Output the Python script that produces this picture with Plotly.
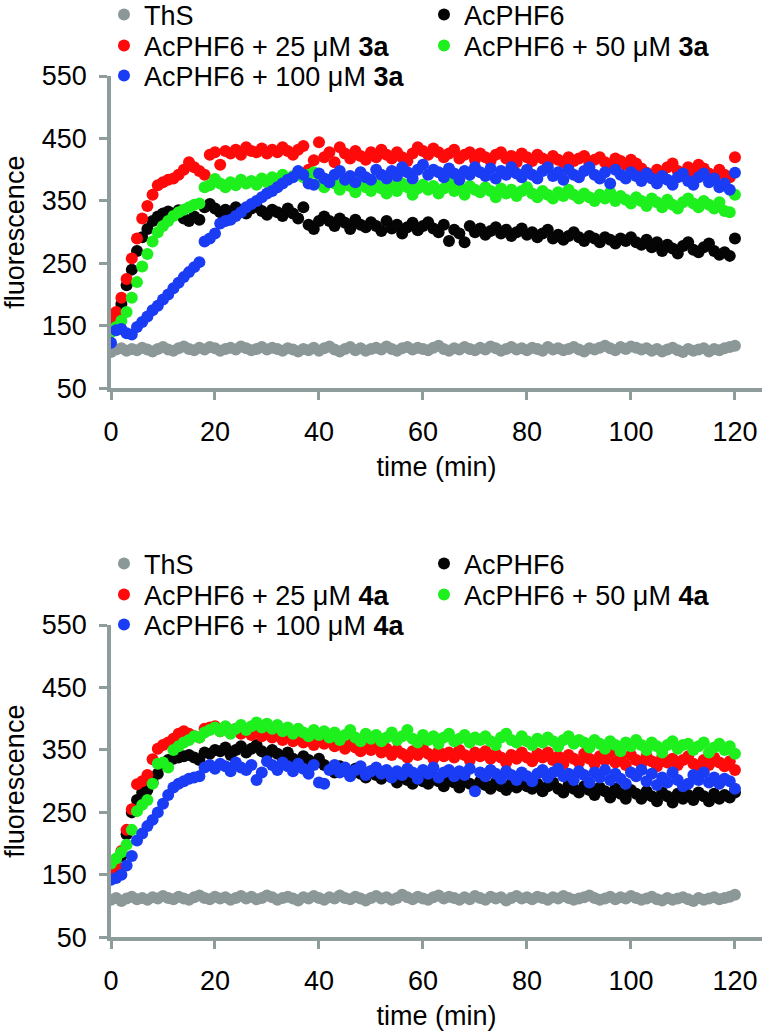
import plotly.graph_objects as go

# ---------------- data ----------------
time_min = list(range(0, 121))

# top panel (compound 3a)
ths_3a = [108, 112, 114, 110, 113, 111, 115, 112, 109, 113, 116,
          112, 110, 114, 117, 113, 111, 115, 112, 116, 114,
          110, 113, 115, 112, 117, 114, 111, 113, 116, 112,
          115, 113, 110, 114, 112, 109, 113, 111, 115, 110,
          114, 117, 112, 109, 113, 116, 111, 114, 110, 113,
          115, 112, 117, 113, 110, 114, 116, 112, 115, 113,
          111, 115, 118, 113, 110, 114, 112, 116, 113, 111,
          115, 112, 117, 114, 110, 113, 116, 112, 114, 111,
          115, 113, 110, 116, 112, 114, 111, 113, 116, 112,
          109, 114, 112, 115, 118, 114, 111, 116, 113, 117,
          115, 112, 114, 110, 113, 109, 112, 115, 111, 108,
          113, 110, 112, 114, 109, 113, 111, 114, 116, 118]
acphf6_3a = [140, 165, 185, 215, 240, 270, 292, 305, 318, 325, 330,
             333, 328, 335, 322, 318, 325, 320, 340, 345, 338,
             332, 336, 328, 340, 335, 330, 338, 342, 334, 328,
             336, 332, 326, 338, 330, 322, 340, 312, 305, 318,
             325, 318, 310, 322, 315, 305, 320, 312, 308, 316,
             310, 302, 318, 306, 312, 298, 308, 315, 303, 310,
             316, 306, 300, 312, 286, 304, 298, 284, 310, 300,
             306, 296, 302, 308, 298, 304, 294, 300, 306, 296,
             300, 292, 298, 304, 290, 296, 288, 294, 300, 292,
             286, 294, 290, 284, 292, 288, 282, 290, 286, 292,
             284, 280, 288, 276, 284, 270, 280, 274, 266, 278,
             284, 272, 268, 276, 282, 270, 264, 268, 262, 290]
acphf6_25uM_3a = [160, 172, 195, 225, 258, 290, 322, 342, 360, 375, 380,
                  384, 386, 392, 400, 412, 404, 398, 392, 424, 428,
                  408, 430, 426, 432, 424, 436, 430, 428, 434, 426,
                  432, 428, 436, 430, 424, 432, 438, 400, 415, 444,
                  420, 428, 412, 436, 426, 418, 430, 422, 416, 428,
                  420, 432, 424, 418, 428, 420, 414, 426, 436, 430,
                  424, 434, 428, 420, 426, 432, 418, 424, 428, 416,
                  426, 420, 414, 424, 428, 418, 422, 412, 426, 420,
                  414, 424, 418, 410, 422, 416, 412, 420, 414, 418,
                  422, 410, 416, 420, 412, 406, 418, 414, 408, 416,
                  410, 402, 395, 388, 400, 392, 404, 410, 398, 390,
                  404, 396, 408, 402, 394, 386, 400, 392, 388, 420]
acphf6_50uM_3a = [140, 148, 158, 172, 195, 220, 245, 265, 285, 300, 310,
                  318, 326, 332, 336, 340, 344, 346, 372, 375, 385,
                  378, 372, 380, 375, 384, 378, 382, 376, 386, 380,
                  388, 384, 392, 386, 390, 394, 388, 392, 396, 380,
                  372, 384, 378, 368, 380, 374, 364, 378, 372, 366,
                  376, 370, 362, 374, 366, 378, 372, 360, 370, 376,
                  368, 374, 362, 370, 378, 366, 372, 360, 374, 368,
                  364, 372, 366, 356, 370, 362, 368, 358, 366, 372,
                  362, 356, 366, 360, 354, 364, 358, 368, 360, 354,
                  362, 356, 350, 360, 354, 364, 350, 358, 352, 346,
                  356, 350, 342, 354, 348, 340, 352, 344, 338, 348,
                  354, 346, 340, 350, 344, 338, 348, 334, 332, 360]
acphf6_100uM_3a = [123, 143, 145, 138, 136, 148, 156, 165, 175, 182, 192,
                   200, 210, 219, 228, 236, 244, 252, 285, 290, 298,
                   314, 318, 320, 326, 332, 340, 345, 350, 356, 362,
                   366, 372, 378, 384, 388, 398, 392, 378, 376, 394,
                   386, 380, 392, 398, 384, 390, 380, 396, 388, 384,
                   400, 392, 386, 398, 390, 404, 396, 386, 400, 408,
                   392, 400, 396, 388, 402, 394, 384, 398, 392, 404,
                   396, 390, 402, 386, 398, 392, 404, 394, 388, 400,
                   392, 386, 398, 404, 390, 396, 384, 400, 392, 388,
                   398, 404, 392, 386, 396, 378, 400, 392, 386, 396,
                   390, 382, 394, 386, 378, 390, 384, 376, 388, 394,
                   382, 376, 388, 394, 380, 386, 372, 378, 368, 395]

# bottom panel (compound 4a)
ths_4a = [110, 113, 108, 112, 115, 111, 113, 110, 114, 112, 116,
          113, 111, 115, 112, 110, 114, 117, 113, 111, 115,
          112, 114, 110, 113, 116, 112, 115, 111, 113, 117,
          114, 110, 113, 115, 112, 109, 114, 112, 116, 113,
          110, 114, 112, 117, 113, 111, 115, 112, 109, 113,
          116, 112, 114, 110, 113, 118, 114, 111, 115, 112,
          110, 114, 117, 112, 115, 113, 110, 114, 111, 116,
          113, 110, 115, 112, 114, 109, 113, 116, 112, 114,
          111, 115, 113, 110, 114, 112, 116, 113, 110, 112,
          114, 117, 113, 110, 112, 115, 111, 114, 112, 116,
          113, 110, 112, 115, 111, 109, 113, 110, 112, 114,
          111, 108, 113, 110, 112, 114, 111, 113, 115, 118]
acphf6_4a = [150, 160, 180, 215, 250, 270, 282, 286, 298, 312, 328,
             334, 336, 338, 340, 342, 338, 334, 346, 344, 350,
             348, 354, 342, 350, 356, 346, 352, 358, 348, 342,
             350, 344, 338, 346, 336, 330, 340, 334, 328, 336,
             326, 320, 314, 324, 316, 310, 320, 312, 306, 316,
             310, 304, 314, 306, 298, 310, 302, 296, 308, 300,
             296, 306, 300, 292, 304, 298, 290, 302, 296, 292,
             300, 294, 288, 298, 292, 286, 296, 290, 298, 292,
             288, 296, 284, 292, 298, 288, 282, 294, 288, 282,
             292, 286, 278, 290, 284, 274, 288, 280, 272, 286,
             280, 272, 284, 276, 268, 282, 276, 266, 280, 272,
             278, 270, 282, 276, 268, 280, 272, 278, 274, 282]
acphf6_25uM_4a = [150, 165, 188, 222, 255, 295, 300, 310, 335, 352, 358,
                  362, 368, 376, 380, 376, 372, 370, 384, 386, 388,
                  380, 386, 378, 384, 376, 382, 374, 380, 372, 378,
                  370, 376, 366, 372, 364, 370, 362, 368, 358, 366,
                  360, 366, 356, 362, 352, 360, 354, 348, 358, 350,
                  356, 346, 352, 342, 350, 344, 338, 348, 342, 352,
                  344, 336, 348, 340, 346, 338, 350, 342, 334, 346,
                  340, 348, 336, 344, 338, 330, 342, 336, 346, 338,
                  332, 344, 338, 346, 334, 340, 328, 342, 336, 330,
                  344, 336, 328, 340, 334, 346, 330, 338, 326, 342,
                  334, 328, 340, 332, 324, 338, 330, 336, 326, 334,
                  340, 328, 322, 334, 326, 338, 330, 324, 332, 318]
acphf6_50uM_4a = [168, 176, 186, 198, 222, 252, 262, 270, 296, 328, 330,
                  322, 350, 356, 362, 366, 372, 370, 378, 382, 386,
                  380, 388, 376, 384, 390, 382, 388, 394, 386, 392,
                  384, 390, 380, 386, 376, 384, 378, 372, 382, 374,
                  380, 370, 378, 366, 374, 382, 370, 364, 376, 368,
                  374, 364, 370, 378, 366, 372, 382, 368, 362, 374,
                  366, 372, 360, 370, 376, 364, 368, 374, 362, 370,
                  366, 372, 364, 358, 370, 376, 366, 362, 372, 364,
                  358, 368, 362, 370, 364, 356, 366, 372, 360, 366,
                  362, 354, 366, 360, 352, 364, 358, 348, 362, 356,
                  366, 358, 350, 362, 356, 346, 358, 364, 352, 358,
                  360, 350, 356, 362, 346, 354, 360, 350, 356, 344]
acphf6_100uM_4a = [142, 145, 150, 165, 180, 205, 216, 228, 238, 250, 264,
                   278, 290, 296, 300, 304, 306, 308, 322, 326, 320,
                   328, 324, 316, 330, 322, 318, 326, 302, 314, 332,
                   326, 318, 330, 324, 316, 328, 320, 312, 326, 298,
                   296, 318, 326, 314, 322, 308, 318, 324, 310, 316,
                   322, 312, 318, 306, 316, 310, 320, 314, 304, 318,
                   312, 322, 306, 314, 318, 308, 316, 310, 320, 284,
                   314, 308, 318, 312, 304, 316, 310, 302, 314, 308,
                   300, 312, 318, 306, 314, 320, 308, 312, 302, 316,
                   310, 298, 314, 306, 318, 302, 312, 304, 296, 314,
                   308, 318, 300, 312, 294, 306, 298, 314, 302, 292,
                   296, 310, 302, 314, 298, 306, 296, 304, 300, 288]

y_ticks = [50, 150, 250, 350, 450, 550]
x_ticks = [0, 20, 40, 60, 80, 100, 120]

series_names_3a = ["ThS", "AcPHF6", "AcPHF6 + 25 μM <b>3a</b>",
                   "AcPHF6 + 50 μM <b>3a</b>", "AcPHF6 + 100 μM <b>3a</b>"]
series_names_4a = ["ThS", "AcPHF6", "AcPHF6 + 25 μM <b>4a</b>",
                   "AcPHF6 + 50 μM <b>4a</b>", "AcPHF6 + 100 μM <b>4a</b>"]

# ---------------- style ----------------
colors = ["#8c9898", "#050505", "#ff0a0a", "#1ef01e", "#1a3cf5"]
axis_gray = "#8f9c9c"
FONT = "Liberation Sans, Arial, Helvetica, sans-serif"
FS = 27
W, H = 762.0, 1032.0
ML = 111.0
PW = W - ML


def px_x(p):
    return (p - ML) / PW


def px_y(p):
    return 1 - p / H


fig = go.Figure()

# legend slots: (left px of legend item, row centre px) per series
col_left = [104, 424, 104, 424, 104]
row_top = [15, 15, 46, 46, 76]
panel_offset = [0, 549]

panels = [
    ([ths_3a, acphf6_3a, acphf6_25uM_3a, acphf6_50uM_3a, acphf6_100uM_3a],
     series_names_3a, "x", "y"),
    ([ths_4a, acphf6_4a, acphf6_25uM_4a, acphf6_50uM_4a, acphf6_100uM_4a],
     series_names_4a, "x2", "y2"),
]

legend_common = dict(orientation="h", xanchor="left", yanchor="middle",
                     bgcolor="rgba(0,0,0,0)", borderwidth=0,
                     font=dict(family=FONT, size=FS, color="black"),
                     itemsizing="trace", visible=True)
legend_layout = {}
k = 0
for pi, (data, names, xa, ya) in enumerate(panels):
    for si, (vals, name, col) in enumerate(zip(data, names, colors)):
        k += 1
        lid = "legend" if k == 1 else "legend%d" % k
        fig.add_trace(go.Scatter(
            x=time_min, y=vals, mode="markers", name=name, showlegend=True,
            marker=dict(color=col, size=12, line=dict(width=0)),
            xaxis=xa, yaxis=ya, legend=lid))
        legend_layout[lid] = dict(legend_common,
                                  x=px_x(col_left[si]),
                                  y=px_y(row_top[si] + panel_offset[pi]))

axis_common = dict(showline=True, linecolor=axis_gray, linewidth=3.5,
                   ticks="outside", ticklen=8, tickwidth=3, tickcolor=axis_gray,
                   showgrid=False, zeroline=False, automargin=False,
                   tickfont=dict(family=FONT, size=FS, color="black"))

xcommon = dict(axis_common, range=[0, 125.2], tickvals=x_ticks,
               ticklabelstandoff=9,
               title=dict(text="time (min)", font=dict(family=FONT, size=FS, color="black"),
                          standoff=12))
ycommon = dict(axis_common, range=[50, 550], tickvals=y_ticks,
               ticklabelstandoff=7,
               title=dict(text="fluorescence", font=dict(family=FONT, size=FS, color="black"),
                          standoff=22))

fig.update_layout(
    width=762, height=1032,
    showlegend=True,
    margin=dict(l=ML, r=0, t=0, b=0, autoexpand=False),
    paper_bgcolor="white", plot_bgcolor="white",
    font=dict(family=FONT, size=FS, color="black"),
    xaxis=dict(xcommon, domain=[0, 1], anchor="y"),
    yaxis=dict(ycommon, domain=[px_y(388.3), px_y(76)], anchor="x"),
    xaxis2=dict(xcommon, domain=[0, 1], anchor="y2"),
    yaxis2=dict(ycommon, domain=[px_y(937.3), px_y(625)], anchor="x2"),
    **legend_layout,
)

# the page body has a default 8px margin; remove it so the figure sits at (0, 0)
fig.write_html("out.html",
               config={"displayModeBar": False},
               post_script="document.body.style.margin='0';document.body.style.padding='0';")
